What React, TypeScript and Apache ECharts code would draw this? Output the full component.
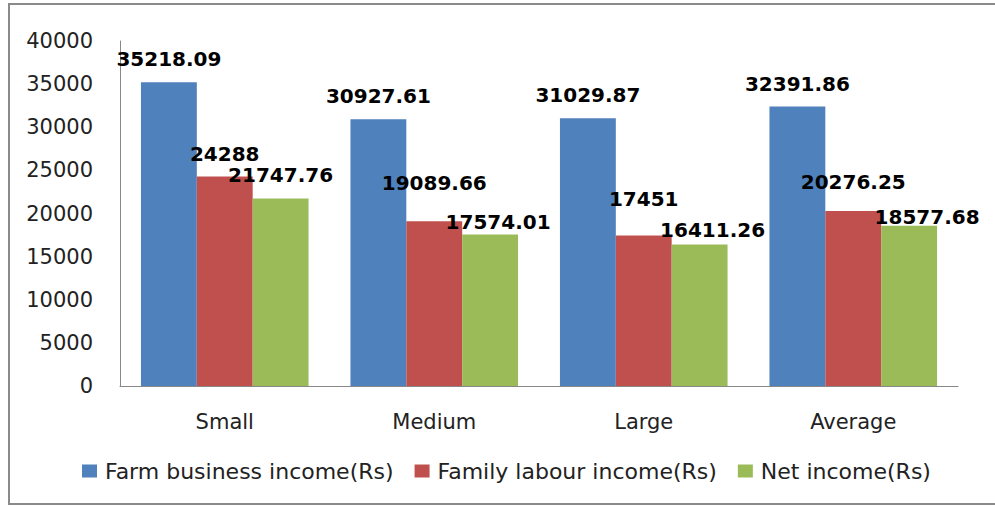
import React, { useEffect, useRef } from "react";
import * as echarts from "echarts";

const categories = ["Small", "Medium", "Large", "Average"];
const farmBusinessIncome = [35218.09, 30927.61, 31029.87, 32391.86];
const familyLabourIncome = [24288, 19089.66, 17451, 20276.25];
const netIncome = [21747.76, 17574.01, 16411.26, 18577.68];
const seriesNames = ["Farm business income(Rs)", "Family labour income(Rs)", "Net income(Rs)"];
const colors = ["#4F81BD", "#C0504D", "#9BBB59"];

// label nudges [dx, dy] per bar, as placed in the reference
const farmLabelShift = [[0, 0], [0, 0], [0, 0], [0, 0]];
const labourLabelShift = [[0, 0], [0, -15], [0, -13], [0, -6]];
const netLabelShift = [[0, 0], [8, 11], [13, 9], [18, 14]];

const FONT = "'DejaVu Sans', Verdana, sans-serif";

export default function App() {
  const ref = useRef<HTMLDivElement>(null);
  useEffect(() => {
    if (!ref.current) return;
    const chart = echarts.init(ref.current, null, { renderer: "svg" });
    const mk = (name: string, data: number[], color: string, shifts: number[][]) => ({
      name,
      type: "bar",
      data: data.map((v, i) => ({ value: v, label: { offset: shifts[i] } })),
      barGap: "0%",
      barCategoryGap: "20%",
      itemStyle: { color },
      label: {
        show: true,
        position: "top",
        distance: 13,
        fontFamily: FONT,
        fontSize: 20,
        fontWeight: "bold",
        color: "#000",
        formatter: (p: any) => String(p.value),
      },
    });
    chart.setOption({
      animation: false,
      backgroundColor: "#fff",
      color: colors,
      graphic: [
        {
          type: "rect",
          shape: { x: 9, y: 4, width: 1000, height: 500 },
          style: { fill: "none", stroke: "#8a8a8a", lineWidth: 2 },
          silent: true,
        },
      ],
      grid: { left: 120, right: 37, top: 41, bottom: 120, containLabel: false },
      legend: {
        data: seriesNames,
        bottom: 24,
        left: 82,
        padding: 0,
        itemWidth: 15,
        itemHeight: 13,
        itemGap: 21,
        icon: "rect",
        textStyle: { fontFamily: FONT, fontSize: 22, color: "#222", padding: [0, 0, 0, 3] },
      },
      xAxis: {
        type: "category",
        data: categories,
        axisLine: { show: true, lineStyle: { color: "#888", width: 1 } },
        axisTick: { show: false },
        axisLabel: { margin: 25, fontFamily: FONT, fontSize: 21, color: "#222" },
        splitLine: { show: false },
      },
      yAxis: {
        type: "value",
        min: 0,
        max: 40000,
        interval: 5000,
        axisLine: { show: true, lineStyle: { color: "#888", width: 1 } },
        axisTick: { show: false },
        axisLabel: {
          margin: 27,
          fontFamily: FONT,
          fontSize: 21,
          color: "#222",
          formatter: (v: number) => String(v),
        },
        splitLine: { show: false },
      },
      series: [
        mk(seriesNames[0], farmBusinessIncome, colors[0], farmLabelShift),
        mk(seriesNames[1], familyLabourIncome, colors[1], labourLabelShift),
        mk(seriesNames[2], netIncome, colors[2], netLabelShift),
      ],
    });
    return () => chart.dispose();
  }, []);
  return (
    <div
      ref={ref}
      style={{ position: "fixed", left: 0, top: 0, width: 995, height: 506 }}
    />
  );
}
